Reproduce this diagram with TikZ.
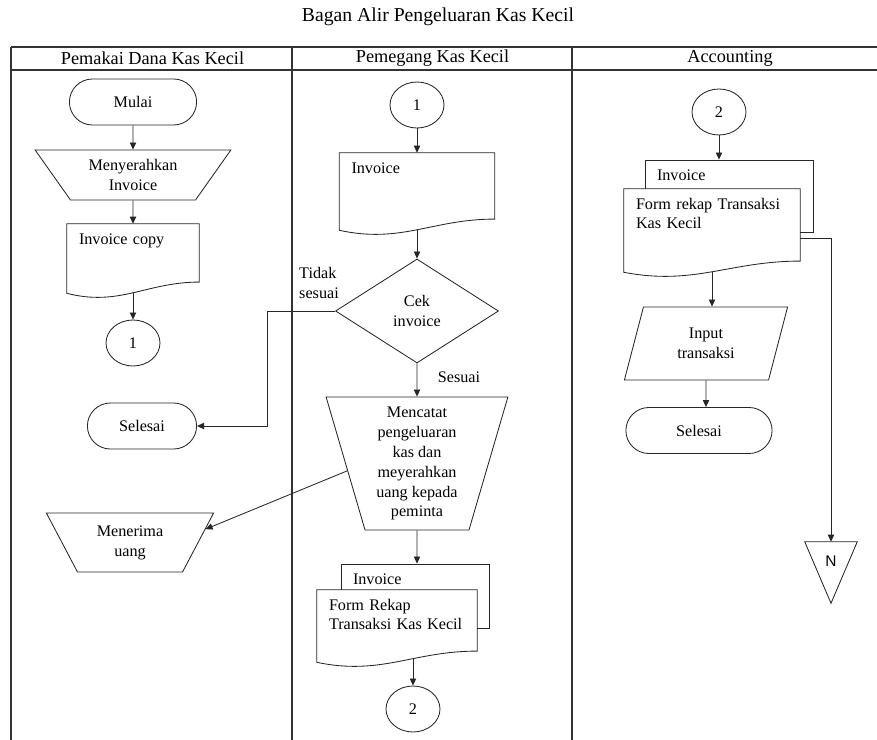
\documentclass[tikz,border=0pt]{standalone}
\usepackage{fontspec}
\setmainfont{Liberation Serif}
\setsansfont{Liberation Sans}
\usetikzlibrary{shapes.geometric,shapes.misc,arrows.meta,calc}

\begin{document}
\begin{tikzpicture}[node distance=2cm,
		every node/.style={font=\fontsize{11.5}{14.2}\selectfont},
		judul/.style={font=\fontsize{14}{16}\selectfont},
		lajur/.style={font=\fontsize{13}{15}\selectfont},
		frame/.style={line width=0.9pt, draw=black!80},
		shapeline/.style={line width=0.6pt, draw=black!85},
		flow/.style={shapeline, -{Triangle[length=5pt,width=4.5pt]}},
		terminal/.style={shapeline, rounded rectangle, minimum width=#1, minimum height=1.15cm, inner sep=1pt},
		manualop/.style={shapeline, trapezium, trapezium stretches=true, shape border rotate=180, align=center, inner sep=1pt},
		inputbox/.style={shapeline, trapezium, trapezium stretches=true, trapezium left angle=74.7, trapezium right angle=105.3, minimum width=4.1cm, minimum height=1.825cm, align=center, inner sep=1pt},
		docbox/.style 2 args={fill=white, text width=#1, text height=0.3cm, text depth=#2, align=left, inner xsep=0.3cm, inner ysep=0.2cm},
		backdoc/.style 2 args={docbox={#1}{#2}, shapeline},
		conn/.style={shapeline, ellipse, minimum width=1.35cm, minimum height=1.15cm, inner sep=0pt},
		decision/.style={shapeline, diamond, aspect=1.57, minimum width=4.075cm, minimum height=2.6cm, inner sep=0pt, align=center},
		offpage/.style={inner xsep=0pt, inner ysep=0.1625cm, minimum width=1.3cm, text height=0.45cm, text depth=0.75cm, font=\sffamily\fontsize{11}{13}\selectfont}]
	\useasboundingbox (0,0) rectangle (21.925,-18.5);
	\node(Judul)				[judul] at (10.95,-0.425)		{Bagan Alir Pengeluaran Kas Kecil};
	\draw[frame] (0.275,-1.175) -- (21.925,-1.175);
	\draw[frame] (0.275,-1.75) -- (21.925,-1.75);
	\foreach \x in {0.275,7.3,14.3}
		\draw[frame] (\x,-1.175) -- (\x,-18.5);
	\node(LajurPemakai)		[lajur] at (3.8125,-1.4625)	{Pemakai Dana Kas Kecil};
	\node(LajurPemegang)		[lajur] at (10.8125,-1.4625)	{Pemegang Kas Kecil};
	\node(LajurAccounting)	[lajur] at (18.25,-1.4625)		{Accounting};

	\node(Mulai)			[terminal=3.25cm] at (3.325,-2.55)		{Mulai};
	\node(Menyerahkan)	[manualop, trapezium angle=52.8, minimum width=4.9cm, minimum height=1.25cm, node distance=1.825cm, below of=Mulai]	{Menyerahkan\\Invoice};
	\node(InvCopy)		[docbox={2.7cm}{1.025cm}, node distance=2.0875cm, below of=Menyerahkan]	{Invoice copy};
	\node(SambungA)		[conn, node distance=2.1125cm, below of=InvCopy]	{1};
	\node(SelesaiPemakai)	[terminal=2.8cm] at (3.55,-10.65)	{Selesai};
	\node(Menerima)		[manualop, trapezium angle=61, minimum width=4.2cm, minimum height=1.475cm] at (3.25,-13.5625)	{Menerima\\uang};

	\node(SambungB)		[conn] at (10.425,-2.625)	{1};
	\node(InvDoc)			[docbox={3.275cm}{1.225cm}, node distance=2.1625cm, below of=SambungB]	{Invoice};
	\node(Cek)			[decision, node distance=2.9875cm, below of=InvDoc]	{Cek\\invoice};
	\node(Mencatat)		[manualop, trapezium angle=74.9, minimum width=4.55cm, minimum height=3.325cm, node distance=3.8125cm, below of=Cek]	{Mencatat\\pengeluaran\\kas dan\\meyerahkan\\uang kepada\\peminta};
	\node(InvBelakang)		[backdoc={3.1cm}{0.9cm}] at (10.375,-14.9)	{Invoice};
	\node(FormRekap)		[docbox={3.4cm}{1.1cm}] at (9.925,-15.65)	{Form Rekap\\Transaksi Kas Kecil};
	\node(SambungC)		[conn] at (10.325,-17.725)	{2};
	\node(LblTidak)		[align=left] at (7.975,-7.075)	{Tidak\\sesuai};
	\node(LblSesuai)		at (11.475,-9.425)	{Sesuai};

	\node(SambungD)		[conn] at (17.975,-2.8)	{2};
	\node(InvAkun)		[backdoc={3.6cm}{1.1cm}] at (18.225,-4.9)	{Invoice};
	\node(FormAkun)		[docbox={3.8cm}{1.375cm}] at (17.8,-5.7625)	{Form rekap Transaksi\\Kas Kecil};
	\node(Input)			[inputbox] at (17.65,-8.5875)	{Input\\transaksi};
	\node(SelesaiAkun)	[terminal=3.725cm] at (17.475,-10.7625)	{Selesai};
	\node(N)				[offpage] at (20.775,-14.3125)	{N};

	\foreach \dok in {InvCopy,InvDoc,FormRekap,FormAkun}
		\draw[shapeline] (\dok.north west) -- (\dok.north east) -- ([yshift=0.28cm]\dok.south east)
			.. controls ($(\dok.south west)!0.6!(\dok.south east)+(0,0.28)$) and ($(\dok.south west)!0.4!(\dok.south east)+(0,-0.34)$) .. (\dok.south west) -- cycle;
	\draw[shapeline] (N.north west) -- (N.north east) -- (N.south) -- cycle;

	\draw[flow](Mulai)		-- (Menyerahkan);
	\draw[flow](Menyerahkan)	-- (InvCopy);
	\draw[flow](InvCopy)		-- (SambungA);
	\draw[flow](SambungB)		-- (InvDoc);
	\draw[flow](InvDoc)		-- (Cek);
	\draw[flow](Cek)			-- (Mencatat);
	\draw[flow](Cek.west)		-- ++(-1.7,0) |- (SelesaiPemakai.east);
	\draw[flow](Mencatat.186)	-- (Menerima.10);
	\draw[flow](Mencatat)		-- (Mencatat |- InvBelakang.north);
	\draw[flow]($(SambungC |- FormRekap.south)+(0,0.09)$) -- (SambungC);
	\draw[flow](SambungD)		-- (SambungD |- InvAkun.north);
	\draw[flow](FormAkun)		-- (FormAkun |- Input.north);
	\draw[flow](Input)		-- (Input |- SelesaiAkun.north);
	\draw[flow]([yshift=-0.2cm]FormAkun.east) -| (N.north);
\end{tikzpicture}
\end{document}
